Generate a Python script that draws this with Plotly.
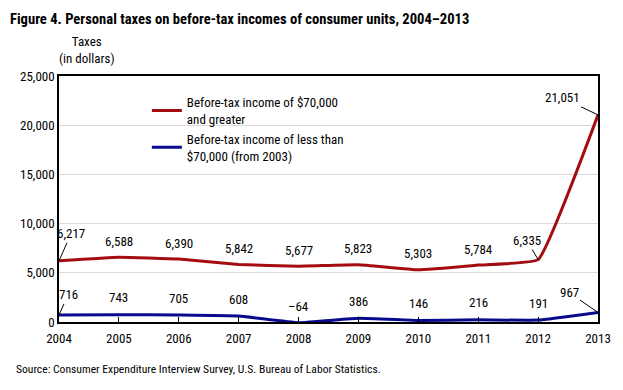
import plotly.graph_objects as go

years = [2004, 2005, 2006, 2007, 2008, 2009, 2010, 2011, 2012, 2013]
high_income = [6217, 6588, 6390, 5842, 5677, 5823, 5303, 5784, 6335, 21051]
low_income = [716, 743, 705, 608, -64, 386, 146, 216, 191, 967]
y_ticks = [0, 5000, 10000, 15000, 20000, 25000]
y_tick_labels = ["0", "5,000", "10,000", "15,000", "20,000", "25,000"]

RED = "#A30D12"
BLUE = "#0A0A8F"
FONT = "Liberation Sans Narrow, Roboto Condensed, Arial Narrow, Liberation Sans, sans-serif"

# the page body adds an 8px offset; figure is sized to compensate
W, H = 615, 382


def fmt(v):
    s = f"{abs(v):,}"
    return ("\u2013" + s) if v < 0 else s


fig = go.Figure()
fig.add_trace(go.Scatter(
    x=years, y=high_income, mode="lines",
    name="Before-tax income of $70,000<br>and greater",
    line=dict(color=RED, width=3, shape="spline", smoothing=0.3),
    cliponaxis=False,
))
fig.add_trace(go.Scatter(
    x=years, y=low_income, mode="lines",
    name="Before-tax income of less than<br>$70,000 (from 2003)",
    line=dict(color=BLUE, width=3, shape="spline", smoothing=0.3),
    cliponaxis=False,
))

annotations = []
red_leaders = {2004: (12, -27), 2012: (-11, -19), 2013: (-36, -17)}
blue_leaders = {2004: (9, -20), 2013: (-29, -20)}
lab_font = dict(size=13, color="black", family=FONT)

for yr, v in zip(years, high_income):
    if yr in red_leaders:
        ax, ay = red_leaders[yr]
        annotations.append(dict(x=yr, y=v, text=fmt(v), showarrow=True, arrowhead=0,
                                arrowwidth=1, arrowcolor="black", ax=ax, ay=ay,
                                font=lab_font))
    else:
        annotations.append(dict(x=yr, y=v, text=fmt(v), showarrow=False, yshift=16,
                                font=lab_font))

for yr, v in zip(years, low_income):
    if yr in blue_leaders:
        ax, ay = blue_leaders[yr]
        annotations.append(dict(x=yr, y=v, text=fmt(v), showarrow=True, arrowhead=0,
                                arrowwidth=1, arrowcolor="black", ax=ax, ay=ay,
                                font=lab_font))
    else:
        annotations.append(dict(x=yr, y=max(v, 0), text=fmt(v), showarrow=False,
                                yshift=17 if v >= 0 else 16, font=lab_font))

annotations.append(dict(xref="paper", yref="paper", x=0.0515, y=1.106,
                        text="Taxes<br>(in dollars)", showarrow=False,
                        xanchor="center", yanchor="middle", font=lab_font))
annotations.append(dict(xref="paper", yref="paper", x=-0.083, y=-0.191,
                        text="Source: Consumer Expenditure Interview Survey, U.S. Bureau of Labor Statistics.",
                        showarrow=False, xanchor="left", yanchor="middle",
                        font=dict(size=11.6, color="black", family=FONT)))

fig.update_layout(
    width=W, height=H,
    margin=dict(l=49, r=22, t=68, b=68),
    paper_bgcolor="white", plot_bgcolor="white",
    font=dict(family=FONT, size=13, color="black"),
    title=dict(text="<b>Figure 4. Personal taxes on before-tax incomes of consumer units, 2004\u20132013</b>",
               x=2 / W, xanchor="left", y=1 - 11 / H, yanchor="middle",
               font=dict(size=14.6, color="black", family=FONT)),
    showlegend=True,
    legend=dict(x=0.163, y=0.955, xanchor="left", yanchor="top",
                bgcolor="rgba(0,0,0,0)", font=dict(size=13, family=FONT),
                itemwidth=30, tracegroupgap=6),
    annotations=annotations,
)
fig.update_xaxes(range=[2004, 2013], tickvals=years, ticks="inside", ticklen=5,
                 tickcolor="black", showline=True, linecolor="black", linewidth=1.5,
                 mirror=True, showgrid=False, zeroline=False, ticklabelstandoff=4,
                 tickfont=dict(size=13, family=FONT))
fig.update_yaxes(range=[0, 25000], tickvals=y_ticks, ticktext=y_tick_labels,
                 showline=True, linecolor="black", linewidth=1.5, mirror=True,
                 showgrid=True, gridcolor="#D9D9D9", gridwidth=1, zeroline=False,
                 ticks="", tickfont=dict(size=13, family=FONT))

fig.write_html("out.html")
